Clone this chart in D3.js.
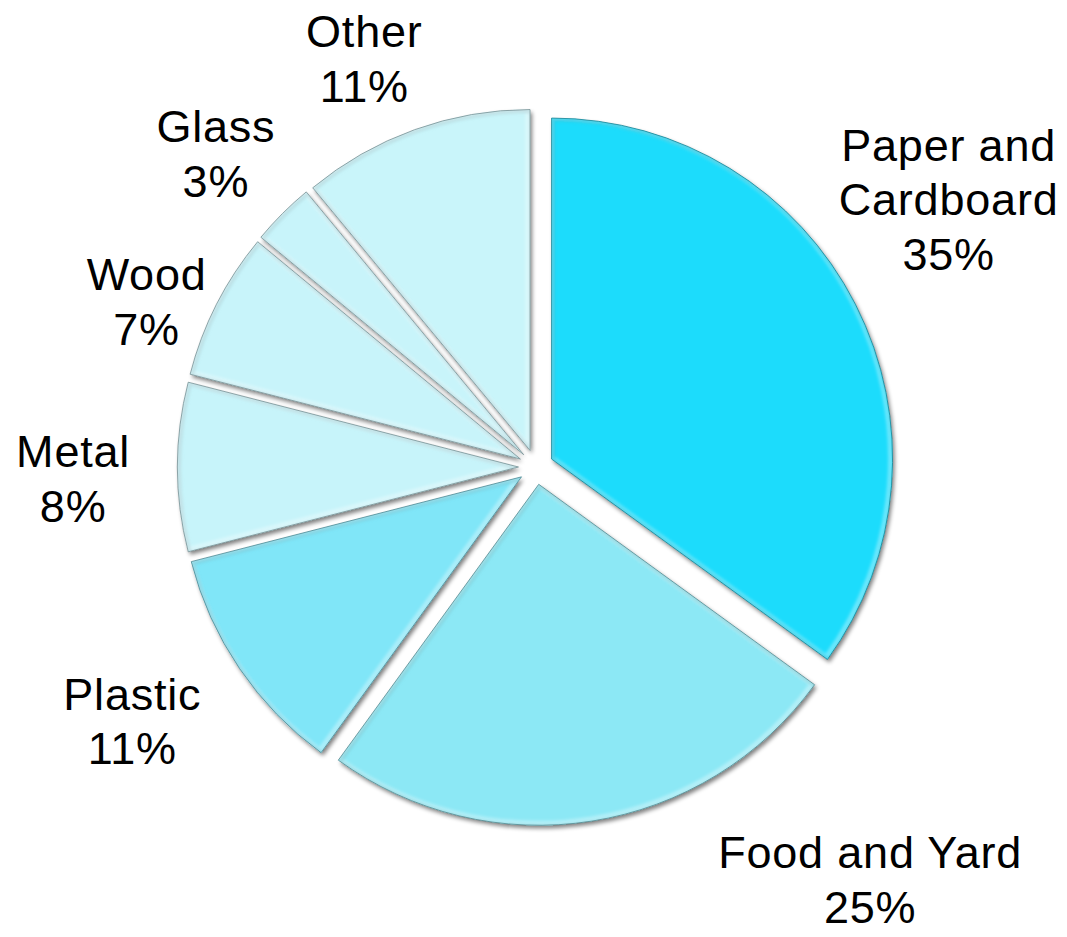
<!DOCTYPE html>
<html>
<head>
<meta charset="utf-8">
<script src="https://cdn.jsdelivr.net/npm/d3@7"></script>
<style>
  html, body { margin: 0; padding: 0; background: #ffffff; }
  svg { display: block; }
  text { font-family: "Liberation Sans", Arial, sans-serif; fill: #000; }
</style>
</head>
<body>
<svg id="chart" width="1067" height="937"></svg>
<script>
// ---- data ----
const categories = ["Paper and\nCardboard", "Food and Yard", "Plastic", "Metal", "Wood", "Glass", "Other"];
const values = [35, 25, 11, 8, 7, 3, 11];
const colors = ["#1cdcfc", "#8ce8f5", "#80e6f8", "#c7f4fa", "#c8f4fa", "#c8f4fa", "#c9f5fa"];

// ---- layout ----
const W = 1067, H = 937;
const cx = 536, cy = 467, R = 341, explode = 17.5;
// label placement: angle shift (deg) from slice bisector, distance from centre
const labelAngleShift = [-6, -30, 2, -1.4, -4, -0.6, -3];
const labelDist = [492, 531, 477, 463, 423, 448, 443];
const fontSize = 45, lineH = 54.5, capH = 32;

const svg = d3.select("#chart");
const defs = svg.append("defs");

const shadow = defs.append("filter").attr("id", "shadow")
  .attr("x", "-20%").attr("y", "-20%").attr("width", "140%").attr("height", "140%");
shadow.append("feGaussianBlur").attr("in", "SourceAlpha").attr("stdDeviation", 2).attr("result", "b");
shadow.append("feOffset").attr("in", "b").attr("dx", 1.5).attr("dy", 2.5).attr("result", "o");
shadow.append("feComponentTransfer").attr("in", "o").attr("result", "s")
  .append("feFuncA").attr("type", "linear").attr("slope", 0.5);
const m = shadow.append("feMerge");
m.append("feMergeNode").attr("in", "s");
m.append("feMergeNode").attr("in", "SourceGraphic");

const blur = defs.append("filter").attr("id", "soft");
blur.append("feGaussianBlur").attr("stdDeviation", 1.5);

const pie = d3.pie().sort(null).value(d => d).startAngle(0).endAngle(2 * Math.PI);
const arcs = pie(values);
const arc = d3.arc().innerRadius(0).outerRadius(R);

const g = svg.append("g").attr("transform", `translate(${cx},${cy})`);

arcs.forEach((a, i) => {
  const mid = (a.startAngle + a.endAngle) / 2;
  const dx = Math.sin(mid) * explode, dy = -Math.cos(mid) * explode;
  const sg = g.append("g").attr("transform", `translate(${dx},${dy})`);
  const d = arc(a);
  const clipId = "clip" + i;
  defs.append("clipPath").attr("id", clipId).append("path")
    .attr("d", d).attr("transform", `translate(${cx + dx},${cy + dy})`);
  sg.append("path").attr("d", d).attr("fill", colors[i]).attr("filter", "url(#shadow)");
  // bevel: inner light rim and subtle dark rim
  const inner = svg.append("g").attr("clip-path", `url(#${clipId})`);
  inner.append("path").attr("d", d)
    .attr("transform", `translate(${cx + dx - 1},${cy + dy - 1})`)
    .attr("fill", "none").attr("stroke", "#ffffff").attr("stroke-opacity", 0.35)
    .attr("stroke-width", 7).attr("filter", "url(#soft)");
  inner.append("path").attr("d", d)
    .attr("transform", `translate(${cx + dx + 1.5},${cy + dy + 1.5})`)
    .attr("fill", "none").attr("stroke", d3.color(colors[i]).darker(0.8)).attr("stroke-opacity", 0.35)
    .attr("stroke-width", 4).attr("filter", "url(#soft)");
  svg.append("path").attr("d", d)
    .attr("transform", `translate(${cx + dx},${cy + dy})`)
    .attr("fill", "none").attr("stroke", d3.color(colors[i]).darker(1.6)).attr("stroke-opacity", 0.75)
    .attr("stroke-width", 1);
});

// labels
const lg = svg.append("g");
arcs.forEach((a, i) => {
  const mid = (a.startAngle + a.endAngle) / 2 + labelAngleShift[i] * Math.PI / 180;
  const px = cx + Math.sin(mid) * labelDist[i];
  const py = cy - Math.cos(mid) * labelDist[i];
  const lines = categories[i].split("\n").concat([values[i] + "%"]);
  const n = lines.length;
  const b1 = py + capH / 2 - (n - 1) * lineH / 2;
  const t = lg.append("text").attr("text-anchor", "middle")
    .attr("font-size", fontSize).attr("letter-spacing", "0.8px");
  lines.forEach((s, k) => {
    t.append("tspan").attr("x", px).attr("y", b1 + k * lineH).text(s);
  });
});
</script>
</body>
</html>
